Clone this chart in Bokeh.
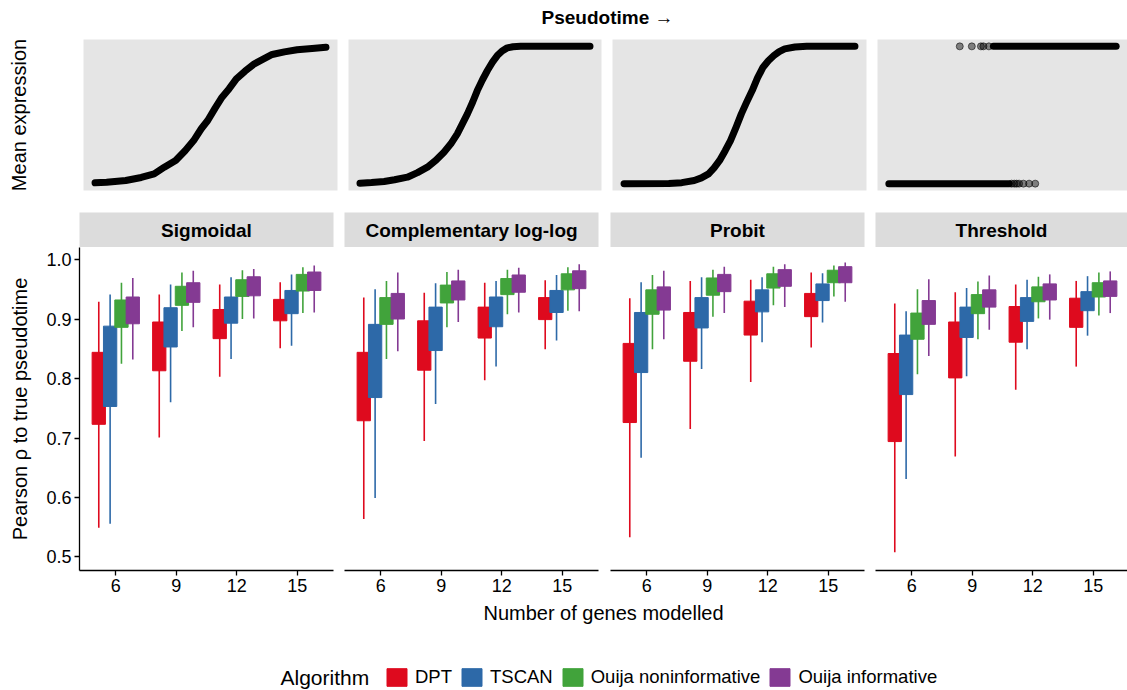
from bokeh.plotting import figure
from bokeh.layouts import column, row
from bokeh.models import FixedTicker, Legend, LegendItem, ColumnDataSource
from bokeh.core.properties import value
from bokeh.embed import file_html
from bokeh.resources import INLINE

FONT = "Liberation Sans"
NAN = float("nan")

# ---------------- data ----------------
genes = [6, 9, 12, 15]
algorithms = ["DPT", "TSCAN", "Ouija noninformative", "Ouija informative"]
colors = ["#DE0A1E", "#2D69A8", "#41A33B", "#843A93"]
panels = ["Sigmoidal", "Complementary log-log", "Probit", "Threshold"]

# each row: [lower whisker, Q1, Q3, upper whisker] for genes 6, 9, 12, 15
sig_dpt = [[0.549, 0.723, 0.844, 0.929], [0.701, 0.813, 0.895, 0.941], [0.803, 0.867, 0.916, 0.958], [0.851, 0.897, 0.933, 0.962]]
sig_tscan = [[0.556, 0.753, 0.888, 0.941], [0.760, 0.853, 0.919, 0.958], [0.833, 0.893, 0.937, 0.970], [0.855, 0.909, 0.948, 0.975]]
sig_nonin = [[0.825, 0.886, 0.932, 0.961], [0.880, 0.923, 0.955, 0.978], [0.900, 0.938, 0.966, 0.982], [0.910, 0.947, 0.975, 0.987]]
sig_inf = [[0.832, 0.892, 0.937, 0.969], [0.886, 0.928, 0.961, 0.981], [0.901, 0.939, 0.971, 0.984], [0.911, 0.948, 0.979, 0.990]]

clog_dpt = [[0.564, 0.729, 0.844, 0.936], [0.695, 0.814, 0.897, 0.944], [0.797, 0.868, 0.920, 0.961], [0.849, 0.899, 0.936, 0.965]]
clog_tscan = [[0.599, 0.768, 0.891, 0.950], [0.757, 0.847, 0.920, 0.960], [0.820, 0.887, 0.937, 0.964], [0.864, 0.911, 0.948, 0.974]]
clog_nonin = [[0.833, 0.891, 0.936, 0.964], [0.886, 0.927, 0.957, 0.979], [0.908, 0.941, 0.968, 0.983], [0.914, 0.949, 0.976, 0.987]]
clog_inf = [[0.846, 0.900, 0.943, 0.978], [0.895, 0.932, 0.964, 0.983], [0.911, 0.945, 0.974, 0.986], [0.913, 0.951, 0.981, 0.992]]

prob_dpt = [[0.533, 0.726, 0.859, 0.935], [0.715, 0.829, 0.911, 0.964], [0.794, 0.873, 0.930, 0.966], [0.852, 0.904, 0.943, 0.978]]
prob_tscan = [[0.667, 0.810, 0.911, 0.962], [0.816, 0.885, 0.936, 0.970], [0.861, 0.912, 0.949, 0.970], [0.894, 0.931, 0.959, 0.977]]
prob_nonin = [[0.849, 0.908, 0.949, 0.974], [0.904, 0.940, 0.969, 0.983], [0.923, 0.952, 0.976, 0.988], [0.938, 0.961, 0.982, 0.990]]
prob_inf = [[0.866, 0.915, 0.954, 0.981], [0.910, 0.946, 0.975, 0.988], [0.920, 0.955, 0.983, 0.992], [0.929, 0.961, 0.988, 0.995]]

thr_dpt = [[0.508, 0.694, 0.842, 0.926], [0.669, 0.801, 0.895, 0.945], [0.781, 0.861, 0.921, 0.958], [0.820, 0.886, 0.935, 0.964]]
thr_tscan = [[0.631, 0.773, 0.873, 0.913], [0.804, 0.869, 0.920, 0.952], [0.849, 0.896, 0.936, 0.966], [0.872, 0.914, 0.946, 0.972]]
thr_nonin = [[0.807, 0.866, 0.910, 0.950], [0.866, 0.909, 0.941, 0.963], [0.901, 0.929, 0.954, 0.971], [0.906, 0.937, 0.961, 0.978]]
thr_inf = [[0.838, 0.891, 0.931, 0.967], [0.882, 0.920, 0.949, 0.973], [0.899, 0.932, 0.959, 0.975], [0.910, 0.938, 0.964, 0.980]]

panel_boxes = [
    [sig_dpt, sig_tscan, sig_nonin, sig_inf],
    [clog_dpt, clog_tscan, clog_nonin, clog_inf],
    [prob_dpt, prob_tscan, prob_nonin, prob_inf],
    [thr_dpt, thr_tscan, thr_nonin, thr_inf],
]

# top-row curves (pseudotime, mean expression)
sig_t = [0.0, 0.05, 0.133, 0.2, 0.256, 0.3, 0.349, 0.39, 0.427, 0.46, 0.488, 0.52, 0.55, 0.58,
         0.612, 0.65, 0.69, 0.72, 0.767, 0.82, 0.875, 0.94, 1.0]
sig_y = [0.006, 0.01, 0.023, 0.045, 0.071, 0.12, 0.169, 0.24, 0.314, 0.40, 0.46, 0.55, 0.63, 0.69,
         0.763, 0.82, 0.873, 0.90, 0.941, 0.96, 0.975, 0.985, 0.994]
clog_t = [0.0, 0.05, 0.105, 0.15, 0.206, 0.25, 0.293, 0.33, 0.365, 0.395, 0.423, 0.445, 0.467, 0.49,
          0.51, 0.532, 0.554, 0.576, 0.597, 0.618, 0.64, 0.665, 0.698, 1.0]
clog_y = [0.003, 0.008, 0.016, 0.028, 0.047, 0.08, 0.12, 0.17, 0.229, 0.29, 0.363, 0.435, 0.508, 0.595,
          0.678, 0.755, 0.824, 0.885, 0.933, 0.967, 0.989, 0.997, 1.0, 1.0]
prob_t = [0.0, 0.194, 0.25, 0.304, 0.335, 0.366, 0.39, 0.414, 0.438, 0.461, 0.485, 0.508, 0.53, 0.555,
          0.578, 0.602, 0.625, 0.649, 0.672, 0.696, 0.74, 0.791, 1.0]
prob_y = [0.0, 0.001, 0.007, 0.023, 0.042, 0.071, 0.115, 0.169, 0.24, 0.314, 0.41, 0.508, 0.59, 0.678,
          0.77, 0.848, 0.895, 0.933, 0.962, 0.982, 0.995, 1.0, 1.0]
thr_low_t = [0.0, 0.53]
thr_low_y = [0.0, 0.0]
thr_high_t = [0.46, 1.0]
thr_high_y = [1.0, 1.0]
thr_pts_t = [0.312, 0.365, 0.405, 0.416, 0.44, 0.54, 0.552, 0.562, 0.573, 0.592, 0.617, 0.644]
thr_pts_y = [1.0, 1.0, 1.0, 1.0, 1.0, 0.0, 0.0, 0.0, 0.0, 0.0, 0.0, 0.0]

y_ticks = [0.5, 0.6, 0.7, 0.8, 0.9, 1.0]
y_tick_labels = ["0.5", "0.6", "0.7", "0.8", "0.9", "1.0"]

# ---------------- helpers ----------------
COMMON = dict(toolbar_location=None, output_backend="svg", title=None)


def canvas(w, h, **kw):
    p = figure(width=w, height=h, x_range=(0, w), y_range=(0, h), min_border=0,
               x_axis_location=None, y_axis_location=None, outline_line_color=None,
               **COMMON, **kw)
    p.grid.visible = False
    return p


def add_text(p, x, y, txt, size, style="normal", align="center", angle=0.0):
    p.text(x=[x], y=[y], text=[txt], text_font=value(FONT), text_font_size=size,
           text_font_style=style, text_align=align, text_baseline="middle",
           text_color="black", angle=angle)


# ---- row 1: overall title ----
title_fig = canvas(1127, 30)
add_text(title_fig, 607, 13, "Pseudotime \u2192", "19px", style="bold")

# ---- row 2: top curve panels ----
top_specs = [(342, 83, 5), (264, 6, 5), (265, 6, 5), (256, 6, 0)]
top_figs = []
for i, (w, lft, rgt) in enumerate(top_specs):
    p = figure(width=w, height=170, x_range=(-0.05, 1.05), y_range=(-0.05, 1.05),
               min_border_left=lft, min_border_right=rgt, min_border_top=9, min_border_bottom=10,
               x_axis_location=None, y_axis_location=("left" if i == 0 else None),
               background_fill_color="#E5E5E5", border_fill_color="white",
               outline_line_color=None, **COMMON)
    p.grid.visible = False
    if i == 0:
        ax = p.yaxis[0]
        ax.ticker = FixedTicker(ticks=[])
        ax.axis_line_color = None
        ax.major_tick_line_color = None
        ax.minor_tick_line_color = None
        ax.major_tick_out = 0
        ax.major_label_standoff = 0
        ax.axis_label = "Mean expression"
        ax.axis_label_text_font = FONT
        ax.axis_label_text_font_size = "20px"
        ax.axis_label_text_font_style = "normal"
        ax.axis_label_text_color = "black"
        ax.axis_label_standoff = 54
    if i == 0:
        p.line(sig_t, sig_y, line_width=7, line_color="black", line_cap="round", line_join="round")
    elif i == 1:
        p.line(clog_t, clog_y, line_width=7, line_color="black", line_cap="round", line_join="round")
    elif i == 2:
        p.line(prob_t, prob_y, line_width=7, line_color="black", line_cap="round", line_join="round")
    else:
        p.line(thr_low_t, thr_low_y, line_width=7, line_color="black", line_cap="round")
        p.line(thr_high_t, thr_high_y, line_width=7, line_color="black", line_cap="round")
        p.scatter(thr_pts_t, thr_pts_y, size=7, fill_color="black", fill_alpha=0.45,
                  line_color="black", line_alpha=0.55)
    top_figs.append(p)

# ---- row 3: strips ----
strip_specs = [(338, 79, 5, 254), (266, 6, 6, 254), (265, 6, 5, 254), (258, 6, 0, 252)]
strip_figs = []
for name, (w, lft, rgt, fw) in zip(panels, strip_specs):
    p = figure(width=w, height=47, x_range=(0, 1), y_range=(0, 1),
               min_border_left=lft, min_border_right=rgt, min_border_top=12, min_border_bottom=0,
               x_axis_location=None, y_axis_location=None, outline_line_color=None,
               background_fill_color="#DCDCDC", border_fill_color="white", **COMMON)
    p.grid.visible = False
    add_text(p, 0.5, 0.5, name, "19px", style="bold")
    strip_figs.append(p)

# ---- row 4: boxplot panels ----
offsets = [-0.28125, -0.09375, 0.09375, 0.28125]
box_w = 0.22
y_lo, y_hi = 0.4773, 1.0202
bottom_figs = []
for pi, (name, (w, lft, rgt, fw)) in enumerate(zip(panels, strip_specs)):
    x_end = 0.4 + 4.2 * fw / 254.0
    p = figure(width=w, height=353, x_range=(0.4, x_end), y_range=(y_lo, y_hi),
               min_border_left=lft, min_border_right=rgt, min_border_top=0, min_border_bottom=30,
               x_axis_location="below", y_axis_location=("left" if pi == 0 else None),
               outline_line_color=None, background_fill_color="white", **COMMON)
    p.grid.visible = False
    for ai, (alg, col) in enumerate(zip(algorithms, colors)):
        stats = panel_boxes[pi][ai]
        src = ColumnDataSource(dict(
            x=[gi + 1 + offsets[ai] for gi in range(len(genes))],
            lo=[s[0] for s in stats], q1=[s[1] for s in stats],
            q3=[s[2] for s in stats], hi=[s[3] for s in stats]))
        p.segment(x0="x", y0="lo", x1="x", y1="hi", source=src, line_color=col, line_width=1.6)
        p.vbar(x="x", width=box_w, bottom="q1", top="q3", source=src,
               fill_color=col, line_color=col, line_width=1)
    xa = p.xaxis[0]
    xa.ticker = FixedTicker(ticks=[1, 2, 3, 4])
    xa.major_label_overrides = {i + 1: str(g) for i, g in enumerate(genes)}
    xa.major_label_text_font = FONT
    xa.major_label_text_font_size = "18px"
    xa.major_label_text_color = "black"
    xa.axis_line_color = "black"
    xa.axis_line_width = 1.3
    xa.major_tick_line_color = "black"
    xa.major_tick_line_width = 1.3
    xa.major_tick_out = 5
    xa.major_tick_in = 0
    xa.minor_tick_line_color = None
    xa.major_label_standoff = 3
    if pi == 0:
        ya = p.yaxis[0]
        ya.ticker = FixedTicker(ticks=y_ticks)
        ya.major_label_overrides = dict(zip(y_ticks, y_tick_labels))
        ya.major_label_text_font = FONT
        ya.major_label_text_font_size = "18px"
        ya.major_label_text_color = "black"
        ya.axis_line_color = "black"
        ya.axis_line_width = 1.3
        ya.major_tick_line_color = "black"
        ya.major_tick_line_width = 1.3
        ya.major_tick_out = 5
        ya.major_tick_in = 0
        ya.minor_tick_line_color = None
        ya.major_label_standoff = 3
        ya.axis_label = "Pearson \u03c1 to true pseudotime"
        ya.axis_label_text_font = FONT
        ya.axis_label_text_font_size = "20px"
        ya.axis_label_text_font_style = "normal"
        ya.axis_label_text_color = "black"
        ya.axis_label_standoff = 12
    bottom_figs.append(p)

# ---- row 5: x-axis title and legend ----
foot = canvas(1127, 90)
add_text(foot, 603, 78, "Number of genes modelled", "20px")
add_text(foot, 280, 13, "Algorithm", "21px", align="left")
items = []
for alg, col in zip(algorithms, colors):
    # legend proxy: a single NaN bar, so nothing is drawn in the plot area
    r = foot.vbar(x=[NAN], width=1, bottom=[NAN], top=[NAN], fill_color=col, line_color=col)
    items.append(LegendItem(label=alg, renderers=[r]))
leg = Legend(items=items, orientation="horizontal", location=(384, 2),
             glyph_width=25, glyph_height=22, label_standoff=6, spacing=7,
             padding=0, margin=0, border_line_color=None, background_fill_alpha=0,
             label_text_font=FONT, label_text_font_size="18.5px", label_text_color="black",
             label_height=22)
foot.add_layout(leg, "center")

layout = column(title_fig, row(*top_figs), row(*strip_figs), row(*bottom_figs), foot)

with open("out.html", "w") as f:
    f.write(file_html(layout, INLINE))
